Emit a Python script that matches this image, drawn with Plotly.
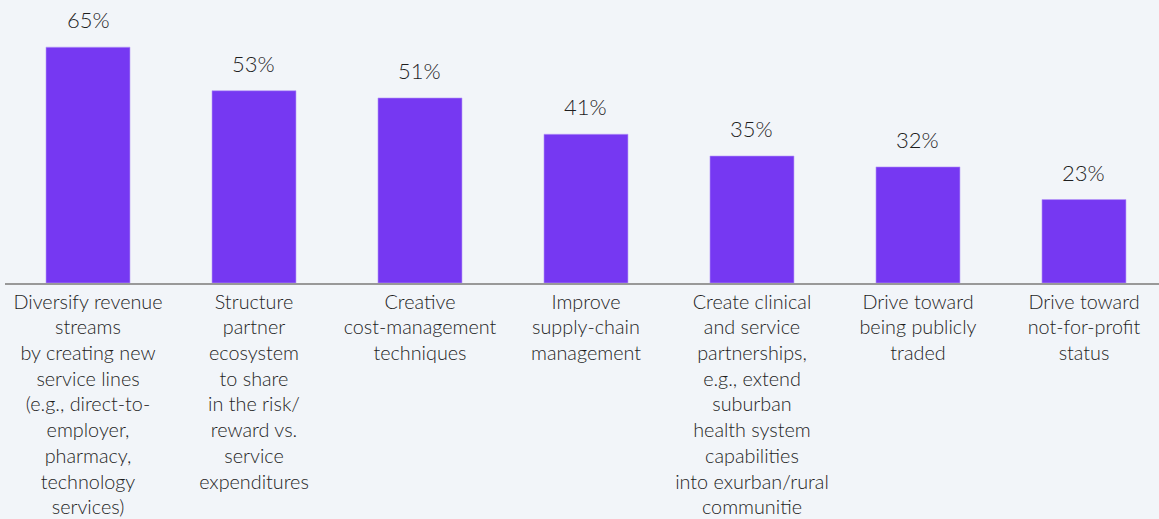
import plotly.graph_objects as go

categories = [
    "Diversify revenue<br>streams<br>by creating new<br>service lines<br>(e.g., direct-to-<br>employer,<br>pharmacy,<br>technology<br>services)",
    "Structure<br>partner<br>ecosystem<br>to share<br>in the risk/<br>reward vs.<br>service<br>expenditures",
    "Creative<br>cost-management<br>techniques",
    "Improve<br>supply-chain<br>management",
    "Create clinical<br>and service<br>partnerships,<br>e.g., extend<br>suburban<br>health system<br>capabilities<br>into exurban/rural<br>communitie",
    "Drive toward<br>being publicly<br>traded",
    "Drive toward<br>not-for-profit<br>status",
]
values = [65, 53, 51, 41, 35, 32, 23]

BAR_COLOR = "#7638F2"
BG = "#F2F5F9"
TEXT = "#1E1E1E"
FONT = "Lato"

x = list(range(len(categories)))

fig = go.Figure(
    go.Bar(
        x=x,
        y=values,
        width=0.506,
        marker=dict(color=BAR_COLOR, line=dict(color="#B89BF7", width=0.6)),
        hoverinfo="skip",
    )
)

for xi, v in zip(x, values):
    fig.add_annotation(
        x=xi, y=v, text=f"{v}%", showarrow=False,
        yanchor="bottom", yshift=12,
        font=dict(family=FONT, size=22, color=TEXT, weight=300),
    )

fig.update_layout(
    width=1159, height=519,
    margin=dict(l=5, r=0, t=0, b=236),
    paper_bgcolor=BG, plot_bgcolor=BG,
    showlegend=False,
    xaxis=dict(
        range=[-0.5, 6.452],
        automargin=False,
        tickmode="array", tickvals=x, ticktext=categories,
        showline=True, linecolor="#999999", linewidth=1.5,
        showgrid=False, zeroline=False, ticks="",
        ticklabelstandoff=0,
        tickfont=dict(family=FONT, size=19.8, color=TEXT, weight=300),
        fixedrange=True,
    ),
    yaxis=dict(
        range=[0, 78], visible=False, showgrid=False, zeroline=False,
        automargin=False, fixedrange=True,
    ),
)

fig.write_html("out.html")
